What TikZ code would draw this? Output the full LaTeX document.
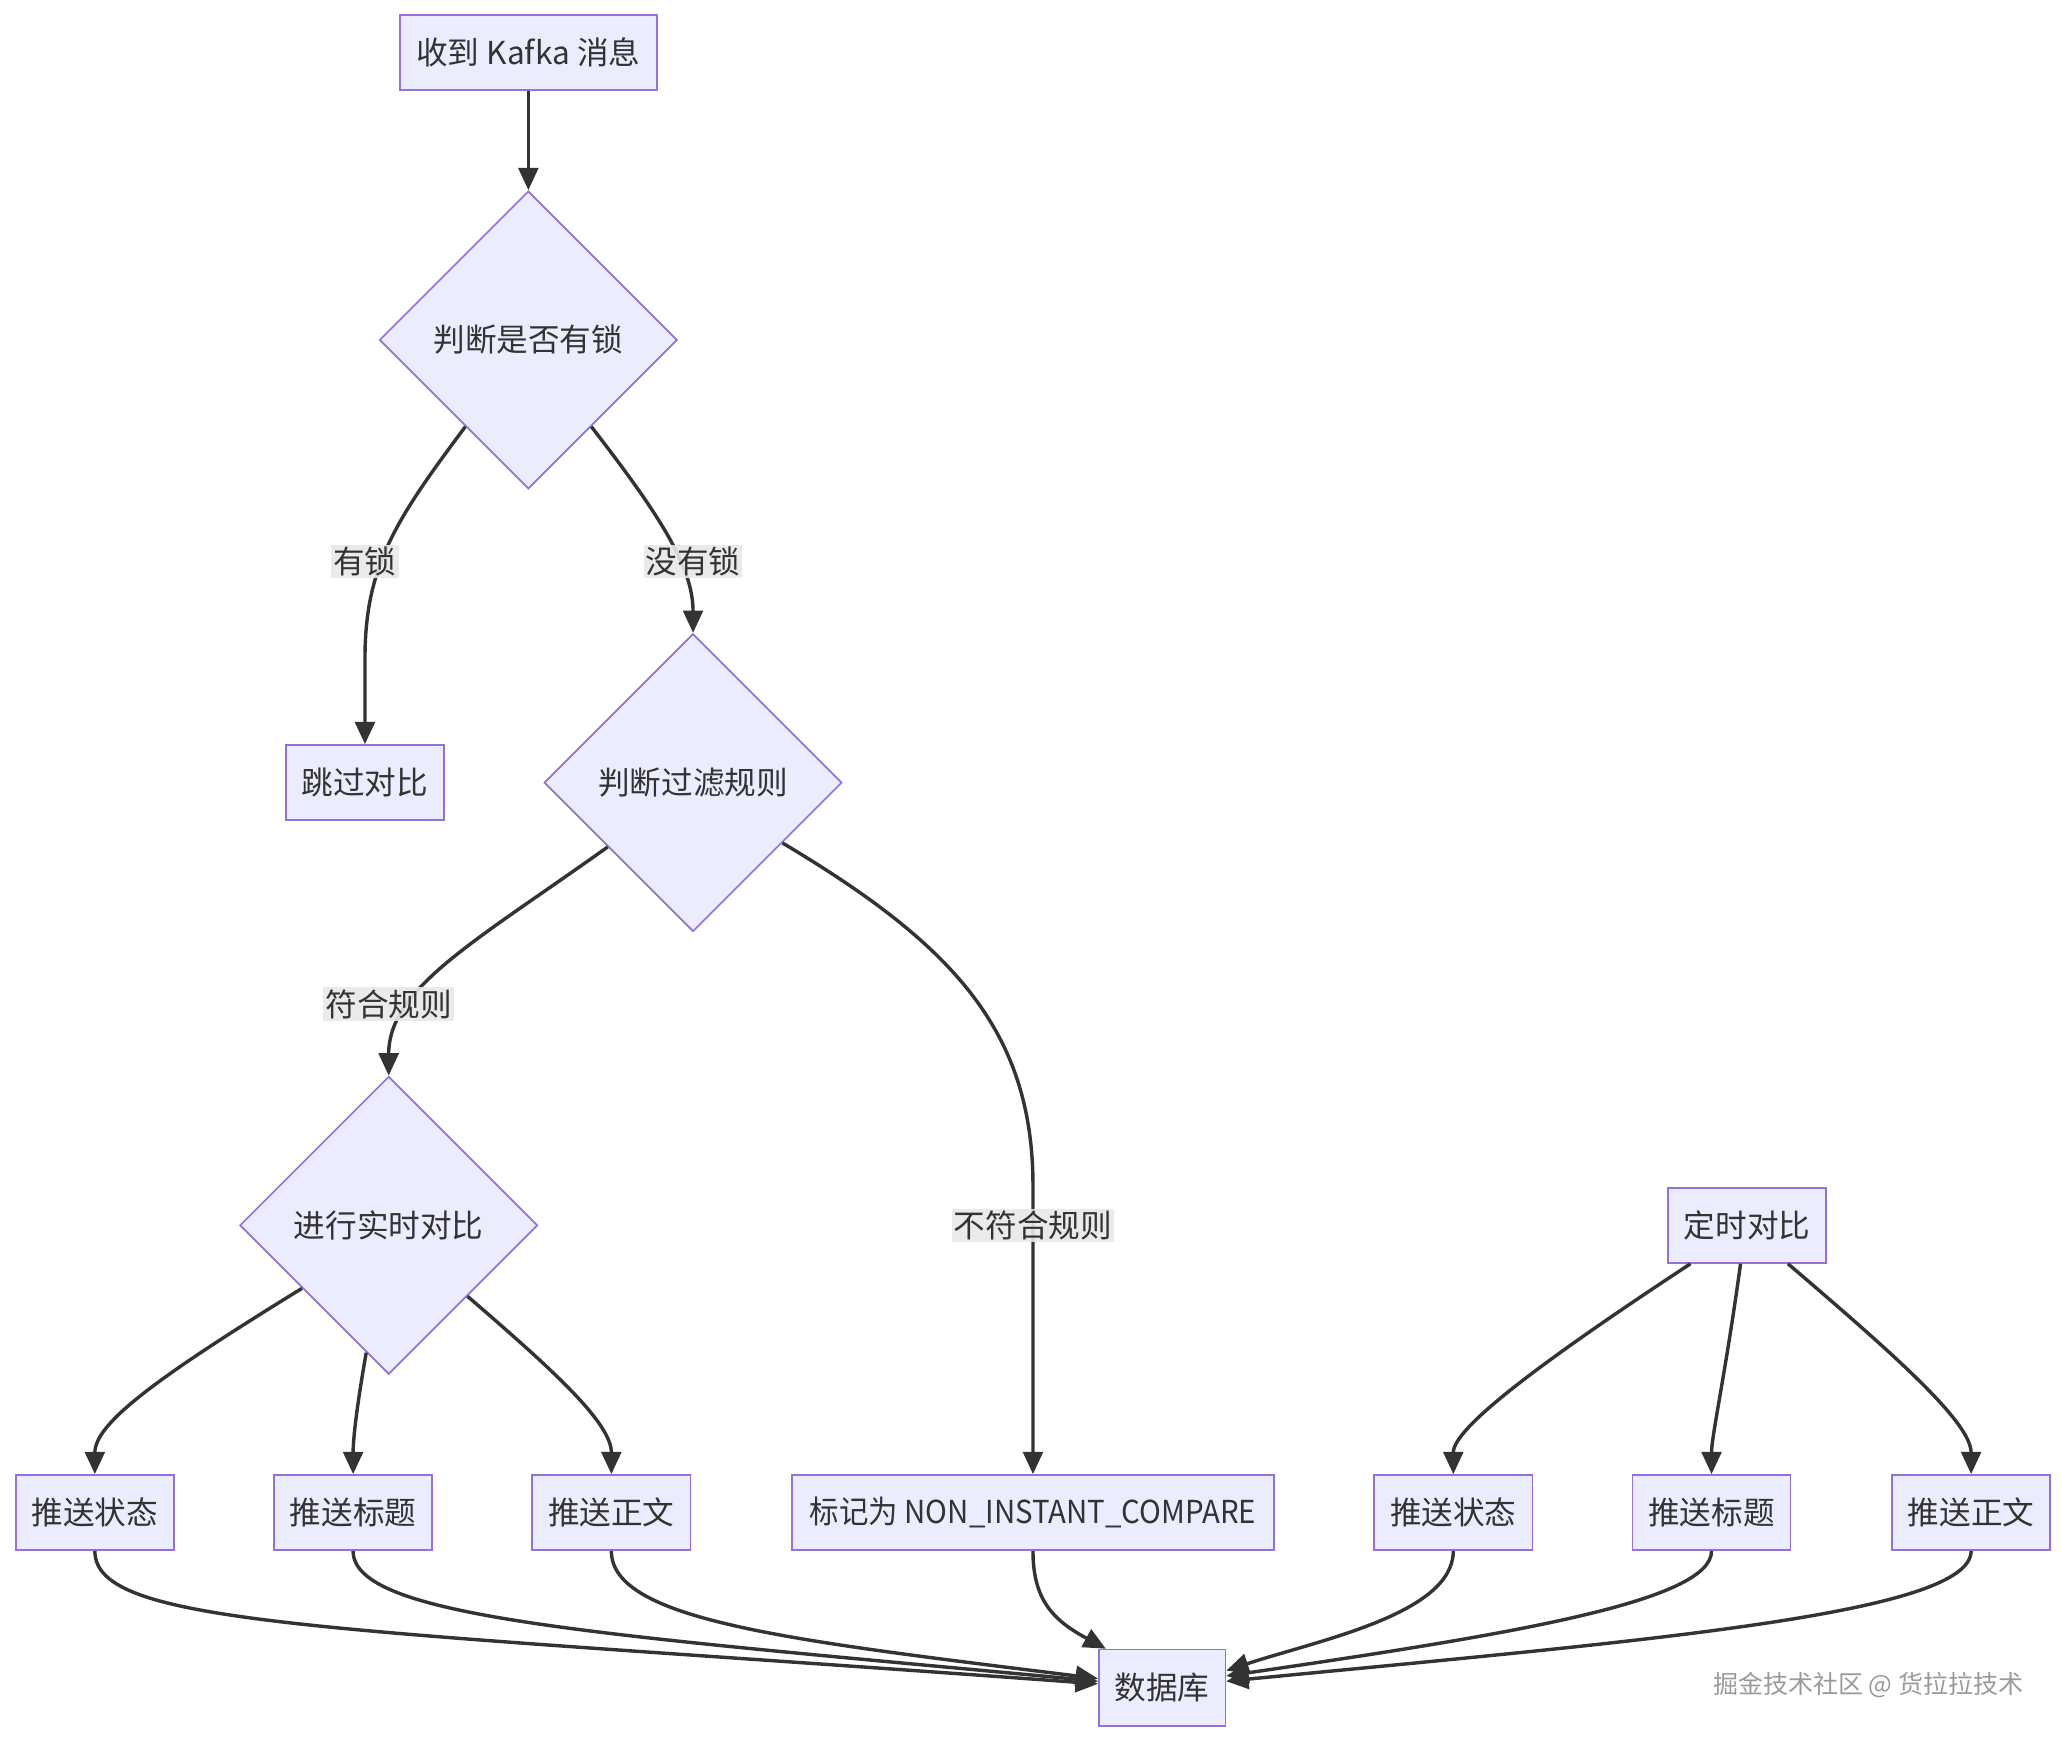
\documentclass[tikz,border=0pt]{standalone}
\usepackage{fontspec}
\setmainfont{Noto Sans CJK SC}
\usetikzlibrary{shapes.geometric,arrows.meta}
\definecolor{nodefill}{HTML}{ECECFF}
\definecolor{nodeline}{HTML}{9370DB}
\definecolor{edgec}{HTML}{333333}
\definecolor{lblbg}{HTML}{E8E8E8}
\definecolor{txt}{HTML}{333333}
\definecolor{wmc}{HTML}{9A9A9A}
\begin{document}
\begin{tikzpicture}[x=1pt,y=-1pt,
  mainfont/.style={font=\fontsize{24}{28}\selectfont},
  box/.style={draw=nodeline, fill=nodefill, line width=1.3pt, minimum height=57pt, minimum width=120pt, inner sep=0pt, text=txt, mainfont},
  dia/.style={diamond, draw=nodeline, fill=nodefill, line width=1.3pt, minimum width=226pt, minimum height=226pt, inner sep=0pt, aspect=1, text=txt, mainfont},
  conn/.style={draw=edgec, line width=2.6pt, -{Triangle[length=17pt,width=15pt]}},
  lbl/.style={fill=lblbg, fill opacity=0.9, text opacity=1, inner sep=1.5pt, text=txt, mainfont}]
\useasboundingbox (0,0) rectangle (1565,1319);
% nodes
\node[box, minimum width=195pt] (k) at (401,40) {收到 Kafka 消息};
\node[dia] (d1) at (401,258) {判断是否有锁};
\node[box] (skip) at (277,594) {跳过对比};
\node[dia] (d2) at (526,594) {判断过滤规则};
\node[dia] (d3) at (295,930) {进行实时对比};
\node[box] (t) at (1326,930) {定时对比};
\node[box] (l1) at (72,1148) {推送状态};
\node[box] (l2) at (268,1148) {推送标题};
\node[box] (l3) at (464,1148) {推送正文};
\node[box, minimum width=366pt] (non) at (784,1148) {\scalebox{0.93}[1]{标记为 NON\_INSTANT\_COMPARE}};
\node[box] (r1) at (1103,1148) {推送状态};
\node[box] (r2) at (1299,1148) {推送标题};
\node[box] (r3) at (1496,1148) {推送正文};
\node[box, minimum width=96pt, minimum height=58pt] (db) at (882,1281) {数据库};
\node[text=wmc, font=\fontsize{19}{22}\selectfont, inner sep=0pt] (wm) at (1418,1279) {掘金技术社区 @ 货拉拉技术};
% edges
\draw[conn] (k.south) -- (d1.north);
\draw[conn] (d1.234.5) .. controls (300,395) and (277,430) .. (277,500) -- (skip.north);
\draw[conn] (d1.306.6) .. controls (500,390) and (526,430) .. (d2.north);
\draw[conn] (d2.217) .. controls (360,715) and (295,750) .. (d3.north);
\draw[conn] (d2.326.3) .. controls (720,715) and (784,780) .. (784,900) -- (non.north);
\draw[conn] (d3.216) .. controls (120,1045) and (72,1080) .. (l1.north);
\draw[conn] (d3.260.6) .. controls (272,1060) and (268,1090) .. (l2.north);
\draw[conn] (d3.318) .. controls (420,1040) and (464,1080) .. (l3.north);
\draw[conn] ([xshift=-43pt]t.south) .. controls (1160,1040) and (1103,1085) .. (r1.north);
\draw[conn] ([xshift=-5pt]t.south) .. controls (1310,1040) and (1299,1090) .. (r2.north);
\draw[conn] ([xshift=31pt]t.south) .. controls (1440,1030) and (1496,1080) .. (r3.north);
\draw[conn] (l1.south) .. controls (72,1235) and (250,1235) .. ([yshift=3pt]db.west);
\draw[conn] (l2.south) .. controls (268,1228) and (450,1240) .. ([yshift=5pt]db.west);
\draw[conn] (l3.south) .. controls (464,1230) and (600,1245) .. ([yshift=7pt]db.west);
\draw[conn] (non.south) .. controls (784,1215) and (800,1230) .. ([xshift=6pt]db.north west);
\draw[conn] (r1.south) .. controls (1103,1225) and (1000,1245) .. ([yshift=13pt]db.east);
\draw[conn] (r2.south) .. controls (1299,1215) and (1150,1240) .. ([yshift=9pt]db.east);
\draw[conn] (r3.south) .. controls (1496,1225) and (1250,1245) .. ([yshift=5pt]db.east);
% edge labels
\node[lbl] (e1) at (277,426) {有锁};
\node[lbl] (e2) at (526,426) {没有锁};
\node[lbl] (e3) at (295,762) {符合规则};
\node[lbl] (e4) at (784,930) {不符合规则};
\end{tikzpicture}
\end{document}
